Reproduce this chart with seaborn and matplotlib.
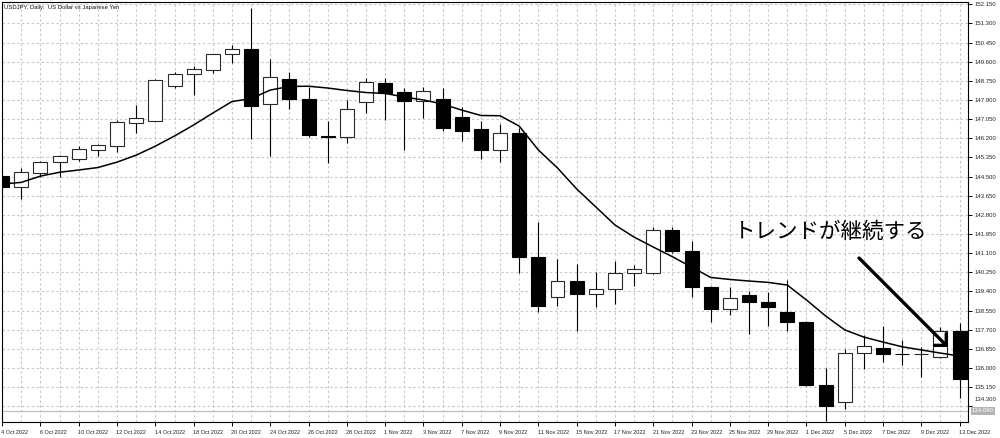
import numpy as np
import pandas as pd
import matplotlib
matplotlib.use("Agg")
import matplotlib.pyplot as plt
from matplotlib import font_manager
from matplotlib.transforms import ScaledTranslation, blended_transform_factory
import seaborn as sns

# ---------------- data ----------------
dates = ["4 Oct 2022", "5 Oct 2022", "6 Oct 2022", "7 Oct 2022", "10 Oct 2022", "11 Oct 2022",
         "12 Oct 2022", "13 Oct 2022", "14 Oct 2022", "17 Oct 2022", "18 Oct 2022", "19 Oct 2022",
         "20 Oct 2022", "21 Oct 2022", "24 Oct 2022", "25 Oct 2022", "26 Oct 2022", "27 Oct 2022",
         "28 Oct 2022", "31 Oct 2022", "1 Nov 2022", "2 Nov 2022", "3 Nov 2022", "4 Nov 2022",
         "7 Nov 2022", "8 Nov 2022", "9 Nov 2022", "10 Nov 2022", "11 Nov 2022", "14 Nov 2022",
         "15 Nov 2022", "16 Nov 2022", "17 Nov 2022", "18 Nov 2022", "21 Nov 2022", "22 Nov 2022",
         "23 Nov 2022", "24 Nov 2022", "25 Nov 2022", "28 Nov 2022", "29 Nov 2022", "30 Nov 2022",
         "1 Dec 2022", "2 Dec 2022", "5 Dec 2022", "6 Dec 2022", "7 Dec 2022", "8 Dec 2022",
         "9 Dec 2022", "12 Dec 2022", "13 Dec 2022"]

open_ = [144.53, 144.05, 144.64, 145.13, 145.26, 145.66, 145.87, 146.89, 146.98, 148.53,
         149.04, 149.23, 149.94, 150.16, 147.71, 148.84, 147.94, 146.28, 146.24, 147.79,
         148.64, 148.24, 147.87, 147.94, 147.16, 146.60, 145.68, 146.42, 140.94, 139.14,
         139.87, 139.27, 139.49, 140.20, 140.23, 142.12, 141.21, 139.61, 138.62, 139.24,
         138.94, 138.47, 138.05, 135.24, 134.50, 136.65, 136.90, 136.63, 136.60, 136.47,
         137.64]
high = [144.60, 144.89, 145.18, 145.45, 145.87, 145.93, 147.01, 147.67, 148.84, 149.15,
        149.41, 149.96, 150.33, 151.98, 149.72, 149.13, 148.49, 146.98, 147.90, 148.89,
        148.86, 148.42, 148.46, 148.44, 147.57, 146.98, 146.83, 146.64, 142.49, 140.82,
        140.61, 140.27, 140.75, 140.57, 142.27, 142.27, 141.65, 139.65, 139.61, 139.42,
        139.36, 139.90, 138.08, 135.98, 136.83, 137.46, 137.86, 137.24, 136.94, 137.83,
        137.98]
low = [144.00, 143.50, 144.49, 144.49, 145.20, 145.42, 145.60, 146.44, 146.98, 148.42,
       148.13, 149.08, 149.55, 146.15, 145.41, 147.50, 146.27, 145.11, 145.97, 147.33,
       147.01, 145.68, 147.11, 146.53, 146.08, 145.26, 145.16, 140.20, 138.47, 138.76,
       137.65, 138.72, 138.84, 139.65, 140.16, 141.09, 139.16, 138.03, 138.35, 137.49,
       137.86, 137.64, 135.21, 133.63, 134.16, 135.94, 136.28, 136.13, 135.61, 136.43,
       134.65]
close = [144.05, 144.69, 145.16, 145.41, 145.72, 145.89, 146.91, 147.08, 148.78, 149.05,
         149.26, 149.94, 150.15, 147.63, 148.90, 147.94, 146.34, 146.25, 147.50, 148.68,
         148.19, 147.87, 148.28, 146.67, 146.53, 145.68, 146.42, 140.94, 138.76, 139.87,
         139.27, 139.49, 140.20, 140.38, 142.12, 141.21, 139.61, 138.62, 139.12, 138.91,
         138.69, 138.05, 135.24, 134.31, 136.65, 136.99, 136.62, 136.60, 136.63, 137.64,
         135.51]
ma = [144.17, 144.24, 144.52, 144.69, 144.79, 144.90, 145.14, 145.45, 145.85, 146.30,
      146.79, 147.32, 147.83, 147.96, 148.34, 148.50, 148.51, 148.43, 148.32, 148.23,
      148.19, 148.03, 147.90, 147.72, 147.45, 147.21, 147.20, 146.74, 145.68, 144.88,
      143.95, 143.15, 142.35, 141.81, 141.37, 140.94, 140.48, 140.02, 139.93, 139.86,
      139.80, 139.68, 139.02, 138.31, 137.69, 137.37, 137.15, 136.94, 136.80, 136.66,
      136.53]
price_ticks = [134.300, 135.150, 136.000, 136.850, 137.700, 138.550, 139.400, 140.250,
               141.100, 141.950, 142.800, 143.650, 144.500, 145.350, 146.200, 147.050,
               147.900, 148.750, 149.600, 150.450, 151.300, 152.150]
bid_price = 134.09
title = "USDJPY, Daily:  US Dollar vs Japanese Yen"
note = "トレンドが継続する"

df = pd.DataFrame({"idx": np.arange(len(dates)), "date": dates, "open": open_,
                   "high": high, "low": low, "close": close, "ma": ma})

# ---------------- style ----------------
sns.set_theme(style="white")
names = {f.name for f in font_manager.fontManager.ttflist}
if "Liberation Sans Narrow" in names:
    small_font, scale = "Liberation Sans Narrow", 1.2
elif "Liberation Sans" in names:
    small_font, scale = "Liberation Sans", 1.0
else:
    small_font, scale = "DejaVu Sans", 0.9
plt.rcParams["font.family"] = [small_font, "DejaVu Sans"]

fig = plt.figure(figsize=(10, 4.38), dpi=100)
fig.patch.set_facecolor("white")
ax = fig.add_axes([0.002, 16 / 438, 0.966, 420 / 438])
ax.set_facecolor("white")

# grid
ax.set_xticks(np.arange(0, len(dates), 2))
ax.set_xticks(np.arange(1, len(dates), 2), minor=True)
ax.set_yticks(price_ticks)
ax.grid(True, which="both", axis="x", color="#c8c8c8", linestyle=(0, (2.2, 2.2)), lw=0.8)
ax.grid(True, which="major", axis="y", color="#c8c8c8", linestyle=(0, (2.2, 2.2)), lw=0.8)
ax.set_axisbelow(True)

# bid line
ax.axhline(bid_price, color="#c0c0c0", lw=0.9, zorder=1)

# wicks
ax.vlines(df["idx"], df["low"], df["high"], color="black", lw=0.8, zorder=2)

# bodies
up = df["close"] >= df["open"]
bw = 0.73
bottoms = np.minimum(df["open"], df["close"])
heights = np.maximum(np.abs(df["close"] - df["open"]), 0.02)
ax.bar(df["idx"][up], heights[up], bottom=bottoms[up], width=bw,
       color="white", edgecolor="#2a2a2a", linewidth=0.8, zorder=3)
ax.bar(df["idx"][~up], heights[~up], bottom=bottoms[~up], width=bw,
       color="black", edgecolor="black", linewidth=0.8, zorder=3)

# moving average
sns.lineplot(data=df, x="idx", y="ma", color="black", lw=1.1, ax=ax, zorder=4)

ax.set_xlim(-0.01, (968 - 1.6) / 19.16)
ax.set_ylim(133.60, 152.25)
ax.set_xlabel("")
ax.set_ylabel("")

# axes & ticks
for s in ax.spines.values():
    s.set_visible(True)
    s.set_color("black")
    s.set_linewidth(0.8)
ax.yaxis.tick_right()
ax.set_yticklabels([f"{v:.3f}" for v in price_ticks])
ax.set_xticklabels(dates[::2], ha="left")
ax.tick_params(axis="y", which="major", direction="out", length=3, width=0.7, color="black",
               labelsize=4.3 * scale, labelcolor="#222222", pad=1.5, right=True, left=False)
ax.tick_params(axis="x", which="major", direction="out", length=3, width=0.7, color="black",
               labelsize=4.0 * scale, labelcolor="#222222", pad=3, bottom=True)
ax.tick_params(axis="x", which="minor", length=0)
for lab in ax.get_xticklabels():
    lab.set_transform(lab.get_transform() + ScaledTranslation(-0.5 / 72, 0, fig.dpi_scale_trans))
ylabs = ax.get_yticklabels()
ylabs[0].set_transform(ylabs[0].get_transform() + ScaledTranslation(0, 5 / 72, fig.dpi_scale_trans))

# bid price box
trans = blended_transform_factory(ax.transAxes, ax.transData)
ax.text(1.004, bid_price, "134.090", transform=trans, fontsize=4.3 * scale, color="white",
        va="center", ha="left", clip_on=False,
        bbox=dict(boxstyle="square,pad=0.2", fc="#b4b4b4", ec="none"))

# title
fig.text(4 / 1000, 1 - 7 / 438, title, fontsize=4.2 * scale, color="#111111", ha="left", va="center")

# annotation
ax.text(43.24, 142.04, note, fontsize=15.5, color="black", ha="center", va="center",
        family=["Noto Sans CJK JP", "DejaVu Sans"], zorder=6)
ax.annotate("", xy=(49.39, 136.93), xytext=(44.75, 140.88),
            arrowprops=dict(arrowstyle="->,head_length=0.6,head_width=0.6", color="black",
                            lw=2.4, shrinkA=0, shrinkB=0, mutation_scale=10),
            zorder=6)

fig.savefig("out.png", dpi=100, facecolor="white")
